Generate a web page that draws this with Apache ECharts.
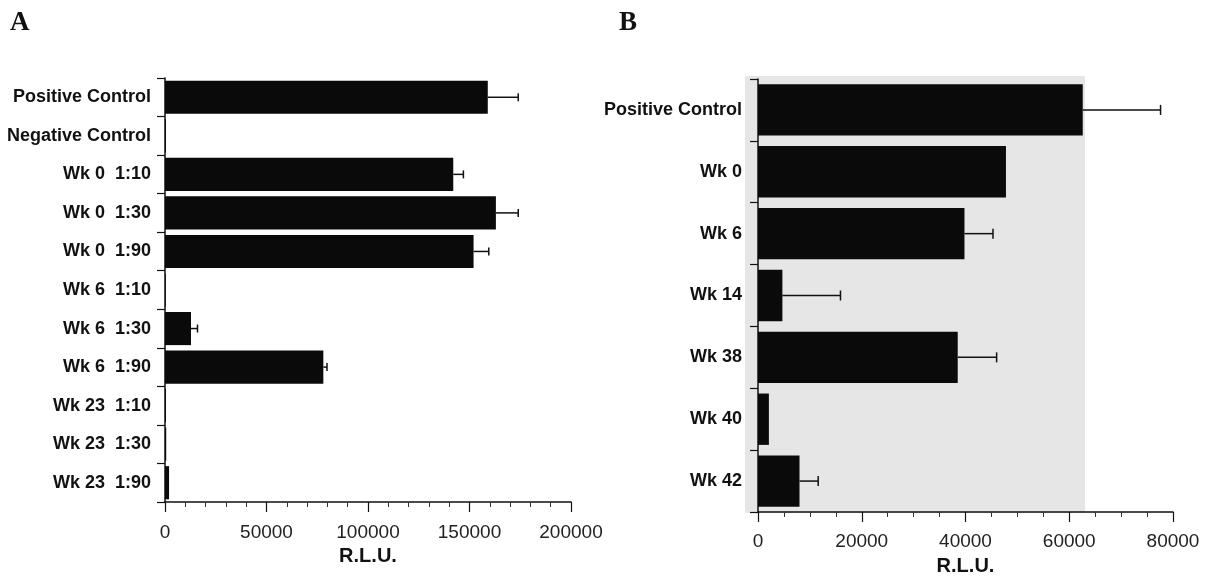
<!DOCTYPE html>
<html>
<head>
<meta charset="utf-8">
<script src="https://cdn.jsdelivr.net/npm/echarts@6/dist/echarts.min.js"></script>
<style>
html,body{margin:0;padding:0;background:#fff;}
#c{width:1205px;height:576px;}
</style>
</head>
<body>
<div id="c"></div>
<script>
// Panel A data
const catsA = ['Positive Control', 'Negative Control', 'Wk 0  1:10', 'Wk 0  1:30', 'Wk 0  1:90',
  'Wk 6  1:10', 'Wk 6  1:30', 'Wk 6  1:90', 'Wk 23  1:10', 'Wk 23  1:30', 'Wk 23  1:90'];
const valsA = [159000, 500, 142000, 163000, 152000, 400, 12800, 78000, 500, 600, 2000];
const errA = [15000, 0, 5000, 11000, 7500, 0, 3200, 1800, 0, 0, 0];
const ticksA = { min: 0, max: 200000, interval: 50000 };

// Panel B data
const catsB = ['Positive Control', 'Wk 0', 'Wk 6', 'Wk 14', 'Wk 38', 'Wk 40', 'Wk 42'];
const valsB = [62600, 47800, 39800, 4700, 38500, 2100, 8000];
const errB = [15000, 0, 5500, 11200, 7500, 0, 3600];
const ticksB = { min: 0, max: 80000, interval: 20000 };

const axisName = 'R.L.U.';

const chart = echarts.init(document.getElementById('c'), null, { renderer: 'canvas' });

function errSeries(idx, vals, errs, capHalf) {
  return {
    type: 'custom',
    xAxisIndex: idx, yAxisIndex: idx,
    z: 5,
    data: vals.map((v, i) => [v, i, v + errs[i]]),
    encode: { x: [0, 2], y: 1 },
    renderItem: function (params, api) {
      const v = api.value(0), cat = api.value(1), hi = api.value(2);
      if (hi <= v) return null;
      const p0 = api.coord([v, cat]);
      const p1 = api.coord([hi, cat]);
      const st = { stroke: '#111', lineWidth: 1.5 };
      return {
        type: 'group',
        children: [
          { type: 'line', shape: { x1: p0[0], y1: p0[1], x2: p1[0], y2: p1[1] }, style: st },
          { type: 'line', shape: { x1: p1[0], y1: p1[1] - capHalf, x2: p1[0], y2: p1[1] + capHalf }, style: st }
        ]
      };
    }
  };
}

const catLabel = { fontFamily: 'Liberation Sans', fontWeight: 'bold', fontSize: 18, color: '#111' };
const tickLabel = { fontFamily: 'Liberation Sans', fontSize: 19, color: '#222', formatter: v => String(v) };
const axisLine = { show: true, lineStyle: { color: '#111', width: 1.5 } };
const nameStyle = { fontFamily: 'Liberation Sans', fontWeight: 'bold', fontSize: 20, color: '#111' };

chart.setOption({
  animation: false,
  backgroundColor: '#fff',
  graphic: [
    { type: 'rect', z: -10, shape: { x: 745, y: 76, width: 340, height: 437 }, style: { fill: '#e6e6e6' } },
    { type: 'text', left: 10, top: 10, style: { text: 'A', font: 'bold 27px "Liberation Serif"', fill: '#111' } },
    { type: 'text', left: 619, top: 10, style: { text: 'B', font: 'bold 27px "Liberation Serif"', fill: '#111' } }
  ],
  grid: [
    { left: 165, right: 634, top: 78, bottom: 74, containLabel: false, outerBoundsMode: 'none' },
    { left: 758, right: 32, top: 79, bottom: 64, containLabel: false, outerBoundsMode: 'none' }
  ],
  xAxis: [
    {
      gridIndex: 0, type: 'value', min: ticksA.min, max: ticksA.max, interval: ticksA.interval,
      axisLine: axisLine, splitLine: { show: false },
      axisTick: { show: true, length: 10, lineStyle: { color: '#111', width: 1.2 } },
      minorTick: { show: true, splitNumber: 5, length: 5, lineStyle: { color: '#333', width: 1 } },
      axisLabel: Object.assign({ margin: 21 }, tickLabel),
      name: axisName, nameLocation: 'middle', nameGap: 44, nameTextStyle: nameStyle
    },
    {
      gridIndex: 1, type: 'value', min: ticksB.min, max: ticksB.max, interval: ticksB.interval,
      axisLine: axisLine, splitLine: { show: false },
      axisTick: { show: true, length: 10, lineStyle: { color: '#111', width: 1.2 } },
      minorTick: { show: true, splitNumber: 4, length: 5, lineStyle: { color: '#333', width: 1 } },
      axisLabel: Object.assign({ margin: 20 }, tickLabel),
      name: axisName, nameLocation: 'middle', nameGap: 44, nameTextStyle: nameStyle
    }
  ],
  yAxis: [
    {
      gridIndex: 0, type: 'category', data: catsA, inverse: true,
      axisLine: axisLine,
      axisTick: { show: true, length: 8, lineStyle: { color: '#111', width: 1.2 } },
      axisLabel: Object.assign({ margin: 14 }, catLabel)
    },
    {
      gridIndex: 1, type: 'category', data: catsB, inverse: true,
      axisLine: axisLine,
      axisTick: { show: true, length: 8, lineStyle: { color: '#111', width: 1.2 } },
      axisLabel: Object.assign({ margin: 16 }, catLabel)
    }
  ],
  series: [
    {
      type: 'bar', xAxisIndex: 0, yAxisIndex: 0, data: valsA,
      barCategoryGap: '14%', itemStyle: { color: '#0a0a0a' }, z: 3
    },
    errSeries(0, valsA, errA, 4),
    {
      type: 'bar', xAxisIndex: 1, yAxisIndex: 1, data: valsB,
      barCategoryGap: '17%', itemStyle: { color: '#0a0a0a' }, z: 3
    },
    errSeries(1, valsB, errB, 5)
  ]
});
</script>
</body>
</html>
